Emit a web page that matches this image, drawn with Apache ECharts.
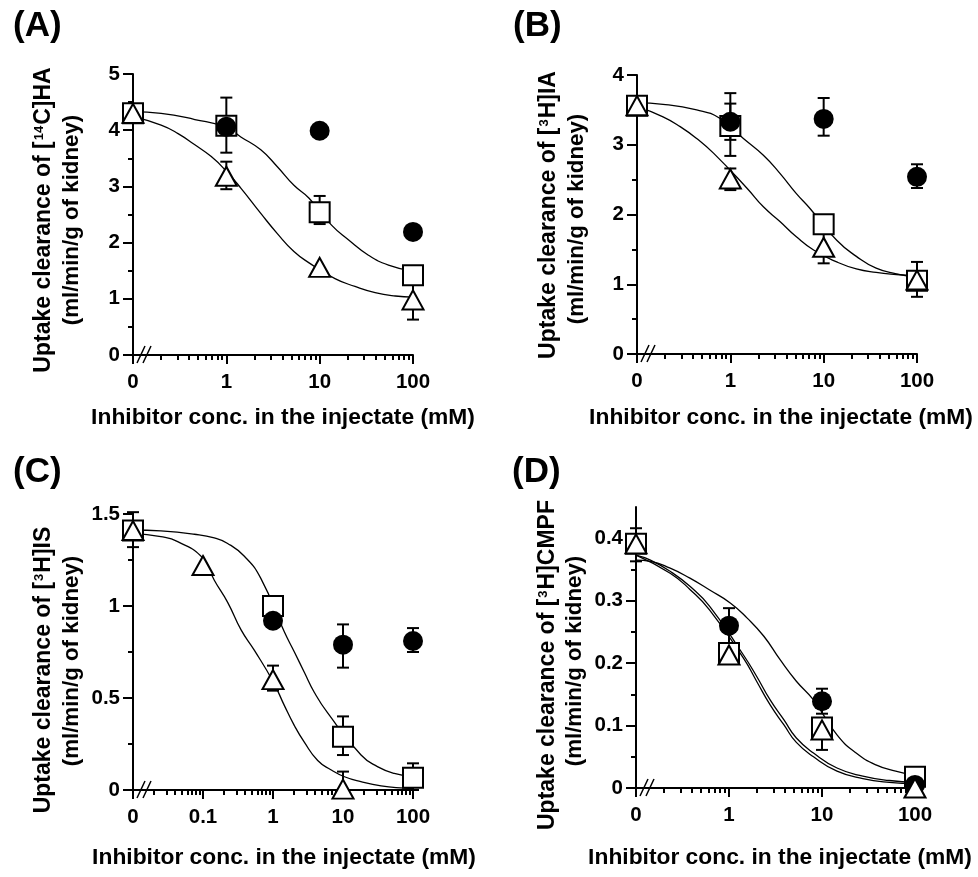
<!DOCTYPE html>
<html>
<head>
<meta charset="utf-8">
<script src="https://cdn.jsdelivr.net/npm/echarts@6/dist/echarts.min.js"></script>
<style>
html, body { margin: 0; padding: 0; background: #fff; }
#main { width: 978px; height: 877px; }
</style>
</head>
<body>
<div id="main"></div>
<script>
// concentrations in the injectate (mM); 0 sits at the left end of the broken log axis
const concABD = [0, 1, 10, 100]
const concC = [0, 0.1, 1, 10, 100]

// x tick labels
const xTicksABD = [0, 1, 10, 100]
const xLabelsABD = ['0', '1', '10', '100']
const xTicksC = [0, 0.1, 1, 10, 100]
const xLabelsC = ['0', '0.1', '1', '10', '100']
const xMinorTicks = [0.02, 0.03, 0.04, 0.05, 0.06, 0.07, 0.08, 0.09,
  0.2, 0.3, 0.4, 0.5, 0.6, 0.7, 0.8, 0.9,
  2, 3, 4, 5, 6, 7, 8, 9,
  20, 30, 40, 50, 60, 70, 80, 90]

// (A) [14C]HA
const aSquare = [4.3, 4.08, 2.54, 1.42]
const aCircle = [null, 4.06, 3.99, 2.19]
const aTriangle = [4.3, 3.18, 1.56, 0.98]
const aErr = [[1, 3.60, 4.58], [1, 2.95, 3.44], [10, 2.33, 2.83], [100, 0.63, 1.32]]
const aSqCurveX = [0, 0.2, 0.46, 1, 1.43, 2.34, 3.52, 5.3, 7.7, 13.4, 20.3, 33, 54.6, 100]
const aSqCurveY = [4.33, 4.30, 4.19, 4.05, 3.88, 3.65, 3.35, 3.02, 2.79, 2.31, 2.05, 1.78, 1.60, 1.49]
const aTriCurveX = [0, 0.2, 0.304, 0.46, 0.69, 1, 1.43, 2.34, 3.52, 5.3, 7.7, 14.6, 23.9, 39.3, 64.6, 100]
const aTriCurveY = [4.24, 4.09, 3.94, 3.74, 3.53, 3.27, 2.97, 2.52, 2.16, 1.84, 1.64, 1.36, 1.22, 1.11, 1.05, 1.03]
const aYMajor = [0, 1, 2, 3, 4, 5]
const aYMinor = [0.5, 1.5, 2.5, 3.5, 4.5]
const aYLabels = ['0', '1', '2', '3', '4', '5']

// (B) [3H]IA
const bSquare = [3.56, 3.27, 1.86, 1.05]
const bCircle = [null, 3.33, 3.37, 2.54]
const bTriangle = [3.56, 2.51, 1.53, 1.06]
const bErr = [[1, 2.84, 3.74], [1, 3.07, 3.59], [1, 2.35, 2.66], [10, 3.13, 3.67], [10, 1.30, 1.76], [100, 2.38, 2.72], [100, 0.82, 1.32]]
const bSqCurveX = [0, 0.19, 0.436, 0.77, 1.38, 2.26, 3.4, 5.1, 7.1, 13.8, 22.4, 36.5, 60, 100]
const bSqCurveY = [3.60, 3.58, 3.50, 3.38, 3.09, 2.85, 2.59, 2.30, 2.09, 1.63, 1.40, 1.23, 1.15, 1.10]
const bTriCurveX = [0, 0.19, 0.29, 0.436, 0.66, 1.5, 2.26, 3.4, 5.1, 7.8, 13.8, 22.4, 36.5, 60, 100]
const bTriCurveY = [3.55, 3.40, 3.26, 3.09, 2.88, 2.38, 2.11, 1.90, 1.68, 1.49, 1.32, 1.22, 1.17, 1.14, 1.12]
const bYMajor = [0, 1, 2, 3, 4]
const bYMinor = [0.5, 1.5, 2.5, 3.5]
const bYLabels = ['0', '1', '2', '3', '4']

// (C) [3H]IS
const cSquare = [1.41, null, 1.00, 0.29, 0.067]
const cCircle = [null, null, 0.92, 0.79, 0.81]
const cTriangle = [1.41, 1.22, 0.60, 0.005, null]
const cErr = [[0, 1.32, 1.51], [1, 0.54, 0.676], [10, 0.665, 0.90], [10, 0.19, 0.40], [10, 0, 0.10], [100, 0.75, 0.88], [100, 0, 0.145]]
const cSqCurveX = [0, 0.025, 0.075, 0.145, 0.225, 0.39, 0.67, 1.45, 2.02, 2.8, 3.9, 6.0, 18.1, 31, 54, 100]
const cSqCurveY = [1.413, 1.408, 1.39, 1.37, 1.34, 1.27, 1.15, 0.86, 0.75, 0.64, 0.53, 0.42, 0.19, 0.127, 0.09, 0.072]
const cTriCurveX = [0, 0.025, 0.0435, 0.1, 0.145, 0.225, 0.35, 0.54, 1, 1.45, 2.02, 2.8, 4.35, 6.7, 10.5, 18, 35, 75, 100]
const cTriCurveY = [1.395, 1.377, 1.35, 1.26, 1.14, 1.02, 0.87, 0.76, 0.59, 0.46, 0.35, 0.26, 0.16, 0.11, 0.072, 0.045, 0.022, 0.01, 0.008]
const cYMajor = [0, 0.5, 1, 1.5]
const cYMinor = [0.25, 0.75, 1.25]
const cYLabels = ['0', '0.5', '1', '1.5']

// (D) [3H]CMPF
const dSquare = [0.391, 0.216, 0.097, 0.018]
const dCircle = [null, 0.26, 0.139, 0.005]
const dTriangle = [0.391, 0.213, 0.093, 0]
const dErr = [[0, 0.363, 0.416], [1, 0.232, 0.288], [1, 0.2, 0.228], [10, 0.119, 0.159], [10, 0.061, 0.11]]
const dCircCurveX = [0, 0.143, 0.233, 0.38, 0.62, 1.04, 1.57, 2.37, 3.56, 5.3, 8.1, 14.5, 23.3, 38, 62, 100]
const dCircCurveY = [0.365, 0.363, 0.352, 0.336, 0.317, 0.296, 0.272, 0.243, 0.205, 0.171, 0.141, 0.085, 0.056, 0.037, 0.027, 0.020]
const dSqCurveX = [0, 0.143, 0.233, 0.38, 0.62, 1.43, 1.98, 2.77, 3.9, 5.3, 8.1, 14.5, 27.5, 53, 100]
const dSqCurveY = [0.373, 0.365, 0.347, 0.323, 0.291, 0.213, 0.179, 0.141, 0.109, 0.080, 0.056, 0.032, 0.019, 0.012, 0.009]
const dTriCurveX = [0, 0.233, 0.38, 0.62, 1.43, 1.98, 2.77, 3.9, 5.3, 8.1, 14.5, 27.5, 53, 100]
const dTriCurveY = [0.373, 0.344, 0.318, 0.285, 0.208, 0.171, 0.133, 0.101, 0.073, 0.050, 0.027, 0.015, 0.009, 0.007]
const dYMajor = [0, 0.1, 0.2, 0.3, 0.4]
const dYMinor = [0.05, 0.15, 0.25, 0.35]
const dYLabels = ['0', '0.1', '0.2', '0.3', '0.4']

const panelNames = ['(A)', '(B)', '(C)', '(D)']
const yTitles = [
  ['Uptake clearance of [', '14', 'C]HA'],
  ['Uptake clearance of [', '3', 'H]IA'],
  ['Uptake clearance of [', '3', 'H]IS'],
  ['Uptake clearance of [', '3', 'H]CMPF']
]
const yTitle2 = '(ml/min/g of kidney)'
const xTitle = 'Inhibitor conc. in the injectate (mM)'

const panels = [
  { conc: concABD, zero: -1, xMax: 100, yMax: 5, square: aSquare, circle: aCircle, triangle: aTriangle, err: aErr,
    curves: [[aSqCurveX, aSqCurveY], [aTriCurveX, aTriCurveY]], xTicks: xTicksABD, xLabels: xLabelsABD,
    yMajor: aYMajor, yMinor: aYMinor, yLabels: aYLabels },
  { conc: concABD, zero: -1, xMax: 100, yMax: 4, square: bSquare, circle: bCircle, triangle: bTriangle, err: bErr,
    curves: [[bSqCurveX, bSqCurveY], [bTriCurveX, bTriCurveY]], xTicks: xTicksABD, xLabels: xLabelsABD,
    yMajor: bYMajor, yMinor: bYMinor, yLabels: bYLabels },
  { conc: concC, zero: -2, xMax: 100, yMax: 1.5, square: cSquare, circle: cCircle, triangle: cTriangle, err: cErr,
    curves: [[cSqCurveX, cSqCurveY], [cTriCurveX, cTriCurveY]], xTicks: xTicksC, xLabels: xLabelsC,
    yMajor: cYMajor, yMinor: cYMinor, yLabels: cYLabels },
  { conc: concABD, zero: -1, xMax: 100, yMax: 0.45, square: dSquare, circle: dCircle, triangle: dTriangle, err: dErr,
    curves: [[dCircCurveX, dCircCurveY], [dSqCurveX, dSqCurveY], [dTriCurveX, dTriCurveY]], xTicks: xTicksABD, xLabels: xLabelsABD,
    yMajor: dYMajor, yMinor: dYMinor, yLabels: dYLabels }
]

// page layout (pixels)
const layout = [
  { grid: { left: 133, top: 74, width: 280, height: 281 }, name: [13, 26], xt: [283, 418], yt1: [44, 220], yt2: [72, 220] },
  { grid: { left: 637, top: 75, width: 280, height: 279 }, name: [513, 26], xt: [781, 418], yt1: [549, 215], yt2: [577, 219] },
  { grid: { left: 133, top: 514, width: 280, height: 276 }, name: [13, 472], xt: [284, 858], yt1: [44, 670], yt2: [72, 661] },
  { grid: { left: 636, top: 507, width: 279, height: 281 }, name: [512, 472], xt: [780, 858], yt1: [548, 665], yt2: [575, 661] }
]

const FONT = "'Liberation Sans', Arial, Helvetica, sans-serif"
const BLACK = '#000'

// position on the broken log axis
function pos (c, zero) {
  return c === 0 ? zero : Math.log10(c)
}

function labelFor (values, labels) {
  return v => {
    const k = values.findIndex(t => Math.abs(t - v) < 1e-6)
    return k < 0 ? '' : labels[k]
  }
}

const chart = echarts.init(document.getElementById('main'))

const grids = []
const xAxes = []
const yAxes = []
const series = []
const graphics = []

panels.forEach((p, i) => {
  const L = layout[i]
  grids.push(L.grid)
  const xMin = p.zero
  const xMax = Math.log10(p.xMax)
  const xMajorPos = p.xTicks.map(c => pos(c, p.zero))

  xAxes.push({
    type: 'value', gridIndex: i, min: xMin, max: xMax, position: 'bottom',
    axisLine: { onZero: false, lineStyle: { color: BLACK, width: 2 } },
    axisTick: { customValues: xMajorPos, length: 9, lineStyle: { color: BLACK, width: 2 } },
    axisLabel: {
      customValues: xMajorPos, formatter: labelFor(xMajorPos, p.xLabels), margin: 17,
      color: BLACK, fontSize: 20.5, fontWeight: 'bold', fontFamily: FONT
    },
    splitLine: { show: false }
  })
  xAxes.push({
    type: 'value', gridIndex: i, min: xMin, max: xMax, position: 'bottom',
    axisLine: { show: false, onZero: false },
    axisTick: { customValues: xMinorTicks.map(Math.log10), length: 5, lineStyle: { color: BLACK, width: 2 } },
    axisLabel: { show: false },
    splitLine: { show: false }
  })
  yAxes.push({
    type: 'value', gridIndex: i, min: 0, max: p.yMax, position: 'left',
    axisLine: { onZero: false, lineStyle: { color: BLACK, width: 2 } },
    axisTick: { customValues: p.yMajor, length: 10, lineStyle: { color: BLACK, width: 2 } },
    axisLabel: {
      customValues: p.yMajor, formatter: labelFor(p.yMajor, p.yLabels), margin: 13,
      color: BLACK, fontSize: 20.5, fontWeight: 'bold', fontFamily: FONT
    },
    splitLine: { show: false }
  })
  yAxes.push({
    type: 'value', gridIndex: i, min: 0, max: p.yMax, position: 'left',
    axisLine: { show: false, onZero: false },
    axisTick: { customValues: p.yMinor, length: 5, lineStyle: { color: BLACK, width: 2 } },
    axisLabel: { show: false },
    splitLine: { show: false }
  })

  const xi = 2 * i
  const yi = 2 * i

  // fitted curves
  p.curves.forEach(([xs, ys]) => {
    series.push({
      type: 'line', xAxisIndex: xi, yAxisIndex: yi, z: 1, silent: true,
      data: xs.map((x, k) => [pos(x, p.zero), ys[k]]),
      symbol: 'none', smooth: 0.5,
      lineStyle: { color: BLACK, width: 1.3, opacity: 1 }
    })
  })

  // error bars
  series.push({
    type: 'custom', xAxisIndex: xi, yAxisIndex: yi, z: 2, silent: true,
    encode: { x: 0, y: [1, 2] },
    data: p.err.map(e => [pos(e[0], p.zero), e[1], e[2]]),
    renderItem (params, api) {
      const x = api.value(0)
      const lo = api.coord([x, api.value(1)])
      const hi = api.coord([x, api.value(2)])
      const w = 6
      const st = { stroke: BLACK, lineWidth: 2 }
      return {
        type: 'group',
        children: [
          { type: 'line', shape: { x1: lo[0], y1: lo[1], x2: hi[0], y2: hi[1] }, style: st },
          { type: 'line', shape: { x1: lo[0] - w, y1: lo[1], x2: lo[0] + w, y2: lo[1] }, style: st },
          { type: 'line', shape: { x1: hi[0] - w, y1: hi[1], x2: hi[0] + w, y2: hi[1] }, style: st }
        ]
      }
    }
  })

  const pts = vals => p.conc.map((c, k) => [pos(c, p.zero), vals[k]]).filter(d => d[1] != null)
  series.push({
    type: 'scatter', xAxisIndex: xi, yAxisIndex: yi, z: 3, silent: true, clip: false,
    data: pts(p.square), symbol: 'rect', symbolSize: 20,
    itemStyle: { color: '#fff', borderColor: BLACK, borderWidth: 2, opacity: 1 }
  })
  series.push({
    type: 'scatter', xAxisIndex: xi, yAxisIndex: yi, z: 4, silent: true, clip: false,
    data: pts(p.circle), symbol: 'circle', symbolSize: 20,
    itemStyle: { color: BLACK, opacity: 1 }
  })
  series.push({
    type: 'scatter', xAxisIndex: xi, yAxisIndex: yi, z: 5, silent: true, clip: false,
    data: pts(p.triangle), symbol: 'triangle', symbolSize: [21, 19],
    itemStyle: { color: '#fff', borderColor: BLACK, borderWidth: 2, opacity: 1 }
  })

  // panel letter
  graphics.push({
    type: 'text', x: L.name[0], y: L.name[1],
    style: { text: panelNames[i], fill: BLACK, font: 'bold 35px ' + FONT, align: 'left', verticalAlign: 'middle' }
  })
  // x axis title
  graphics.push({
    type: 'text', x: L.xt[0], y: L.xt[1],
    style: { text: xTitle, fill: BLACK, font: 'bold 22.8px ' + FONT, align: 'center', verticalAlign: 'middle' }
  })
  // y axis title, two lines
  const t = yTitles[i]
  graphics.push({
    type: 'text', x: L.yt1[0], y: L.yt1[1], rotation: Math.PI / 2,
    style: {
      text: '{b|' + t[0] + '}{s|' + t[1] + '}{b|' + t[2] + '}',
      align: 'center', verticalAlign: 'middle', fill: BLACK,
      rich: {
        b: { fontSize: 23, fontWeight: 'bold', fontFamily: FONT, lineHeight: 26, fill: BLACK },
        s: { fontSize: 13, fontWeight: 'bold', fontFamily: FONT, lineHeight: 14, verticalAlign: 'top', padding: [2, 1, 0, 1], fill: BLACK }
      }
    }
  })
  graphics.push({
    type: 'text', x: L.yt2[0], y: L.yt2[1], rotation: Math.PI / 2,
    style: { text: yTitle2, fill: BLACK, font: 'bold 22.3px ' + FONT, align: 'center', verticalAlign: 'middle' }
  })
  // axis break marks
  const g = L.grid
  const by = g.top + g.height
  ;[0, 6].forEach(dx => {
    graphics.push({
      type: 'line', shape: { x1: g.left + 4 + dx, y1: by + 8, x2: g.left + 12 + dx, y2: by - 9 },
      style: { stroke: BLACK, lineWidth: 1.5 }
    })
  })
})

chart.setOption({
  animation: false,
  backgroundColor: '#fff',
  grid: grids,
  xAxis: xAxes,
  yAxis: yAxes,
  series: series,
  graphic: graphics
})
</script>
</body>
</html>
